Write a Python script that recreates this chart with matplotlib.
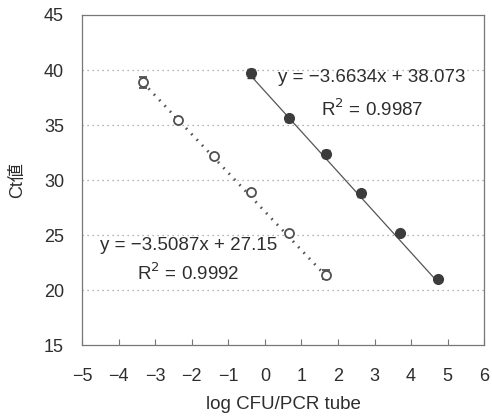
import matplotlib.pyplot as plt
import numpy as np

plt.rcParams['font.family'] = ['Liberation Sans', 'Noto Sans CJK JP', 'DejaVu Sans']

ink = '#2e2e2e'

# sample A (filled) and sample B (open)
xa = [-0.37, 0.67, 1.66, 2.64, 3.71, 4.73]
ya = [39.7, 35.6, 32.4, 28.8, 25.2, 21.0]
ea = [0.4, 0.3, 0.3, 0.3, 0.2, 0.2]
xb = [-3.33, -2.37, -1.38, -0.37, 0.67, 1.66]
yb = [38.9, 35.5, 32.2, 28.9, 25.2, 21.4]
eb = [0.5, 0.2, 0.2, 0.2, 0.2, 0.4]

slope_a, icpt_a, r2_a = -3.6634, 38.073, 0.9987
slope_b, icpt_b, r2_b = -3.5087, 27.15, 0.9992

fig = plt.figure(figsize=(4.92, 4.16), dpi=100)
ax = fig.add_axes([0.167, 0.17, 0.817, 0.794])

for y in [20, 25, 30, 35, 40]:
    ax.axhline(y, color='#9a9a9a', lw=0.9, ls=(0, (1, 3)), zorder=0)

# trend lines from the fitted equations
xs = np.array([xa[0], xa[-1]])
ax.plot(xs, slope_a * xs + icpt_a, color='#555555', lw=0.9, zorder=1)
xs = np.array([xb[0], xb[-1]])
ax.plot(xs, slope_b * xs + icpt_b, color='#555555', lw=2.0, ls=(0, (0.6, 2.2)), zorder=1)

ax.errorbar(xa, ya, yerr=ea, fmt='o', ms=7, mfc='#3c3c3c', mec='#3c3c3c',
            ecolor='#3c3c3c', elinewidth=1, capsize=3, zorder=3)
ax.errorbar(xb, yb, yerr=eb, fmt='o', ms=6.5, mfc='white', mec='#505050', mew=1.3,
            ecolor='#505050', elinewidth=1, capsize=3, zorder=3)

fs = 13.5
ax.text(2.92, 39.3, 'y = \u2212%.4fx + %.3f' % (-slope_a, icpt_a), ha='center', va='center',
        fontsize=fs, color=ink)
ax.text(2.95, 36.4, 'R$^2$ = %.4f' % r2_a, ha='center', va='center',
        fontsize=fs, color=ink)
ax.text(-2.1, 24.1, 'y = \u2212%.4fx + %.2f' % (-slope_b, icpt_b), ha='center', va='center',
        fontsize=fs, color=ink)
ax.text(-2.1, 21.5, 'R$^2$ = %.4f' % r2_b, ha='center', va='center',
        fontsize=fs, color=ink)

ax.set_xlim(-5, 6)
ax.set_ylim(15, 45)
ax.set_xticks(range(-5, 7))
ax.set_xticklabels([str(v).replace('-', '\u2212') for v in range(-5, 7)])
ax.set_yticks(range(15, 50, 5))
ax.tick_params(axis='x', direction='in', length=4, color='#777777',
               labelsize=13, labelcolor=ink, pad=16)
ax.tick_params(axis='y', length=0, labelsize=13, labelcolor=ink, pad=13)
for s in ax.spines.values():
    s.set_color('#777777')
    s.set_linewidth(0.9)

ax.set_xlabel('log CFU/PCR tube', fontsize=13.5, color=ink, labelpad=8)
ax.set_ylabel('Ct値', fontsize=13, color=ink, labelpad=13)

fig.savefig('out.png', dpi=100)
